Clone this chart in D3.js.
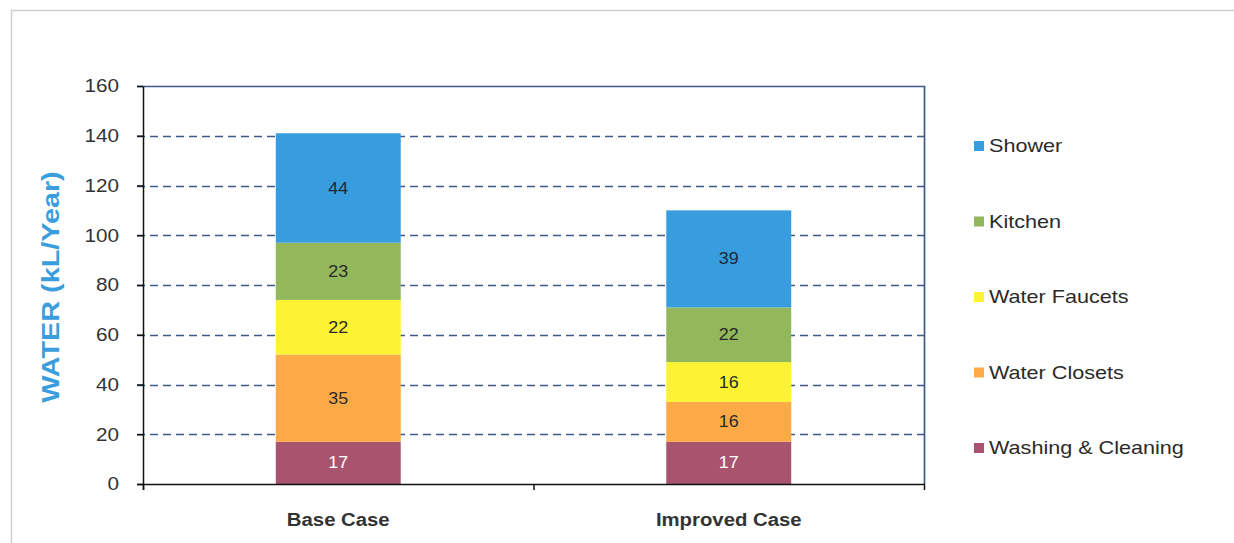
<!DOCTYPE html>
<html>
<head>
<meta charset="utf-8">
<script src="https://cdn.jsdelivr.net/npm/d3@7"></script>
<style>
  html, body { margin: 0; padding: 0; background: #fff; }
  svg { display: block; }
</style>
</head>
<body>
<svg id="chart" width="1234" height="543"></svg>
<script>
// Annual water use by end use, stacked per case
const cases = ["Base Case", "Improved Case"];
const seriesNames = ["Washing & Cleaning", "Water Closets", "Water Faucets", "Kitchen", "Shower"];
const washing = [17, 17];
const closets = [35, 16];
const faucets = [22, 16];
const kitchen = [23, 22];
const shower = [44, 39];
const yTicks = [0, 20, 40, 60, 80, 100, 120, 140, 160];
const seriesColors = ["#a9546f", "#fcaa48", "#fdf332", "#93b85c", "#379ddf"];
const labelColors = ["#ffffff", "#2a2a2a", "#2a2a2a", "#2a2a2a", "#1e2a36"];

const seriesValues = [washing, closets, faucets, kitchen, shower];
const rows = cases.map((c, i) => {
  const r = { case: c };
  seriesNames.forEach((s, k) => { r[s] = seriesValues[k][i]; });
  return r;
});
const stacked = d3.stack().keys(seriesNames)(rows);

const FONT = "'Liberation Sans', Arial, sans-serif";
const svg = d3.select("#chart");
const margin = { left: 143, right: 310, top: 86, bottom: 59 };
const W = 1234, H = 543;
const plotW = W - margin.left - margin.right;
const plotH = H - margin.top - margin.bottom;

// outer frame
svg.append("path")
  .attr("d", `M11.5,${H} L11.5,10.5 L${W},10.5`)
  .attr("fill", "none").attr("stroke", "#cfcfcf").attr("stroke-width", 1.5);

const g = svg.append("g").attr("transform", `translate(${margin.left},${margin.top})`);

const x = d3.scaleBand().domain(cases).range([0, plotW]).paddingInner(0).paddingOuter(0);
const y = d3.scaleLinear().domain([0, 160]).range([plotH, 0]);
const barW = x.bandwidth() * 0.32;

// dashed gridlines
g.append("g").selectAll("line")
  .data(yTicks.filter(t => t > 0 && t < 160))
  .join("line")
  .attr("x1", -6).attr("x2", plotW)
  .attr("y1", d => Math.round(y(d)) + 0.5).attr("y2", d => Math.round(y(d)) + 0.5)
  .attr("stroke", "#3d5a8a").attr("stroke-width", 1.7)
  .attr("stroke-dasharray", "8,5");

// plot area top and right border
g.append("path")
  .attr("d", `M-6,${Math.round(y(160)) + 0.5} L${plotW + 0.5},${Math.round(y(160)) + 0.5} L${plotW + 0.5},${plotH}`)
  .attr("fill", "none").attr("stroke", "#3d5a8a").attr("stroke-width", 1.7);

// stacked bars
const layers = g.append("g").selectAll("g")
  .data(stacked)
  .join("g")
  .attr("fill", (d, i) => seriesColors[i]);

layers.selectAll("rect")
  .data(d => d)
  .join("rect")
  .attr("x", d => x(d.data.case) + (x.bandwidth() - barW) / 2)
  .attr("width", barW)
  .attr("y", d => y(d[1]))
  .attr("height", d => y(d[0]) - y(d[1]));

// value labels
stacked.forEach((layer, i) => {
  g.append("g").selectAll("text")
    .data(layer)
    .join("text")
    .attr("transform", d => `translate(${x(d.data.case) + x.bandwidth() / 2},${(y(d[0]) + y(d[1])) / 2}) scale(1.12,1)`)
    .attr("dy", "0.35em")
    .attr("text-anchor", "middle")
    .attr("font-family", FONT)
    .attr("font-size", 16)
    .attr("fill", labelColors[i])
    .text(d => d.data[layer.key]);
});

// y axis
const yAxis = g.append("g")
  .call(d3.axisLeft(y).tickValues(yTicks).tickSize(6).tickPadding(0).tickFormat(d3.format("d")));
yAxis.select(".domain").attr("stroke", "#111").attr("stroke-width", 1.5).attr("d", `M0.5,${plotH + 6}V0.5`);
yAxis.selectAll(".tick line").attr("stroke", "#111").attr("stroke-width", 1.5);
yAxis.selectAll(".tick text")
  .attr("x", null)
  .attr("transform", "translate(-24,0) scale(1.15,1)")
  .attr("font-family", FONT)
  .attr("font-size", 18).attr("fill", "#333");

// x axis
const xAxis = g.append("g").attr("transform", `translate(0,${plotH})`);
xAxis.append("line")
  .attr("x1", -6).attr("x2", plotW + 0.5)
  .attr("y1", 0.5).attr("y2", 0.5)
  .attr("stroke", "#111").attr("stroke-width", 1.5);
xAxis.selectAll("line.tick")
  .data([0, plotW / 2, plotW])
  .join("line").attr("class", "tick")
  .attr("x1", d => d + 0.5).attr("x2", d => d + 0.5)
  .attr("y1", 0).attr("y2", 6)
  .attr("stroke", "#111").attr("stroke-width", 1.5);
xAxis.selectAll("text")
  .data(cases)
  .join("text")
  .attr("transform", d => `translate(${x(d) + x.bandwidth() / 2},42) scale(1.13,1)`)
  .attr("text-anchor", "middle")
  .attr("font-family", FONT)
  .attr("font-size", 18).attr("font-weight", "bold").attr("fill", "#333")
  .text(d => d);

// y axis title
svg.append("text")
  .attr("transform", "translate(59,287) rotate(-90) scale(1.2,1)")
  .attr("text-anchor", "middle")
  .attr("font-family", FONT)
  .attr("font-size", 24).attr("font-weight", "bold").attr("fill", "#3a9ddc")
  .text("WATER (kL/Year)");

// legend, top item is the top of the stack
const legendItems = seriesNames.map((s, i) => ({ name: s, color: seriesColors[i] })).reverse();
const legend = svg.append("g").attr("transform", "translate(974,146)");
const li = legend.selectAll("g")
  .data(legendItems)
  .join("g")
  .attr("transform", (d, i) => `translate(0,${i * 75.5})`);
li.append("rect")
  .attr("x", 0).attr("y", -5).attr("width", 10).attr("height", 10)
  .attr("fill", d => d.color);
li.append("text")
  .attr("transform", "translate(15,0) scale(1.2,1)")
  .attr("dy", "0.35em")
  .attr("font-family", FONT)
  .attr("font-size", 18).attr("fill", "#2a2a2a")
  .text(d => d.name);
</script>
</body>
</html>
